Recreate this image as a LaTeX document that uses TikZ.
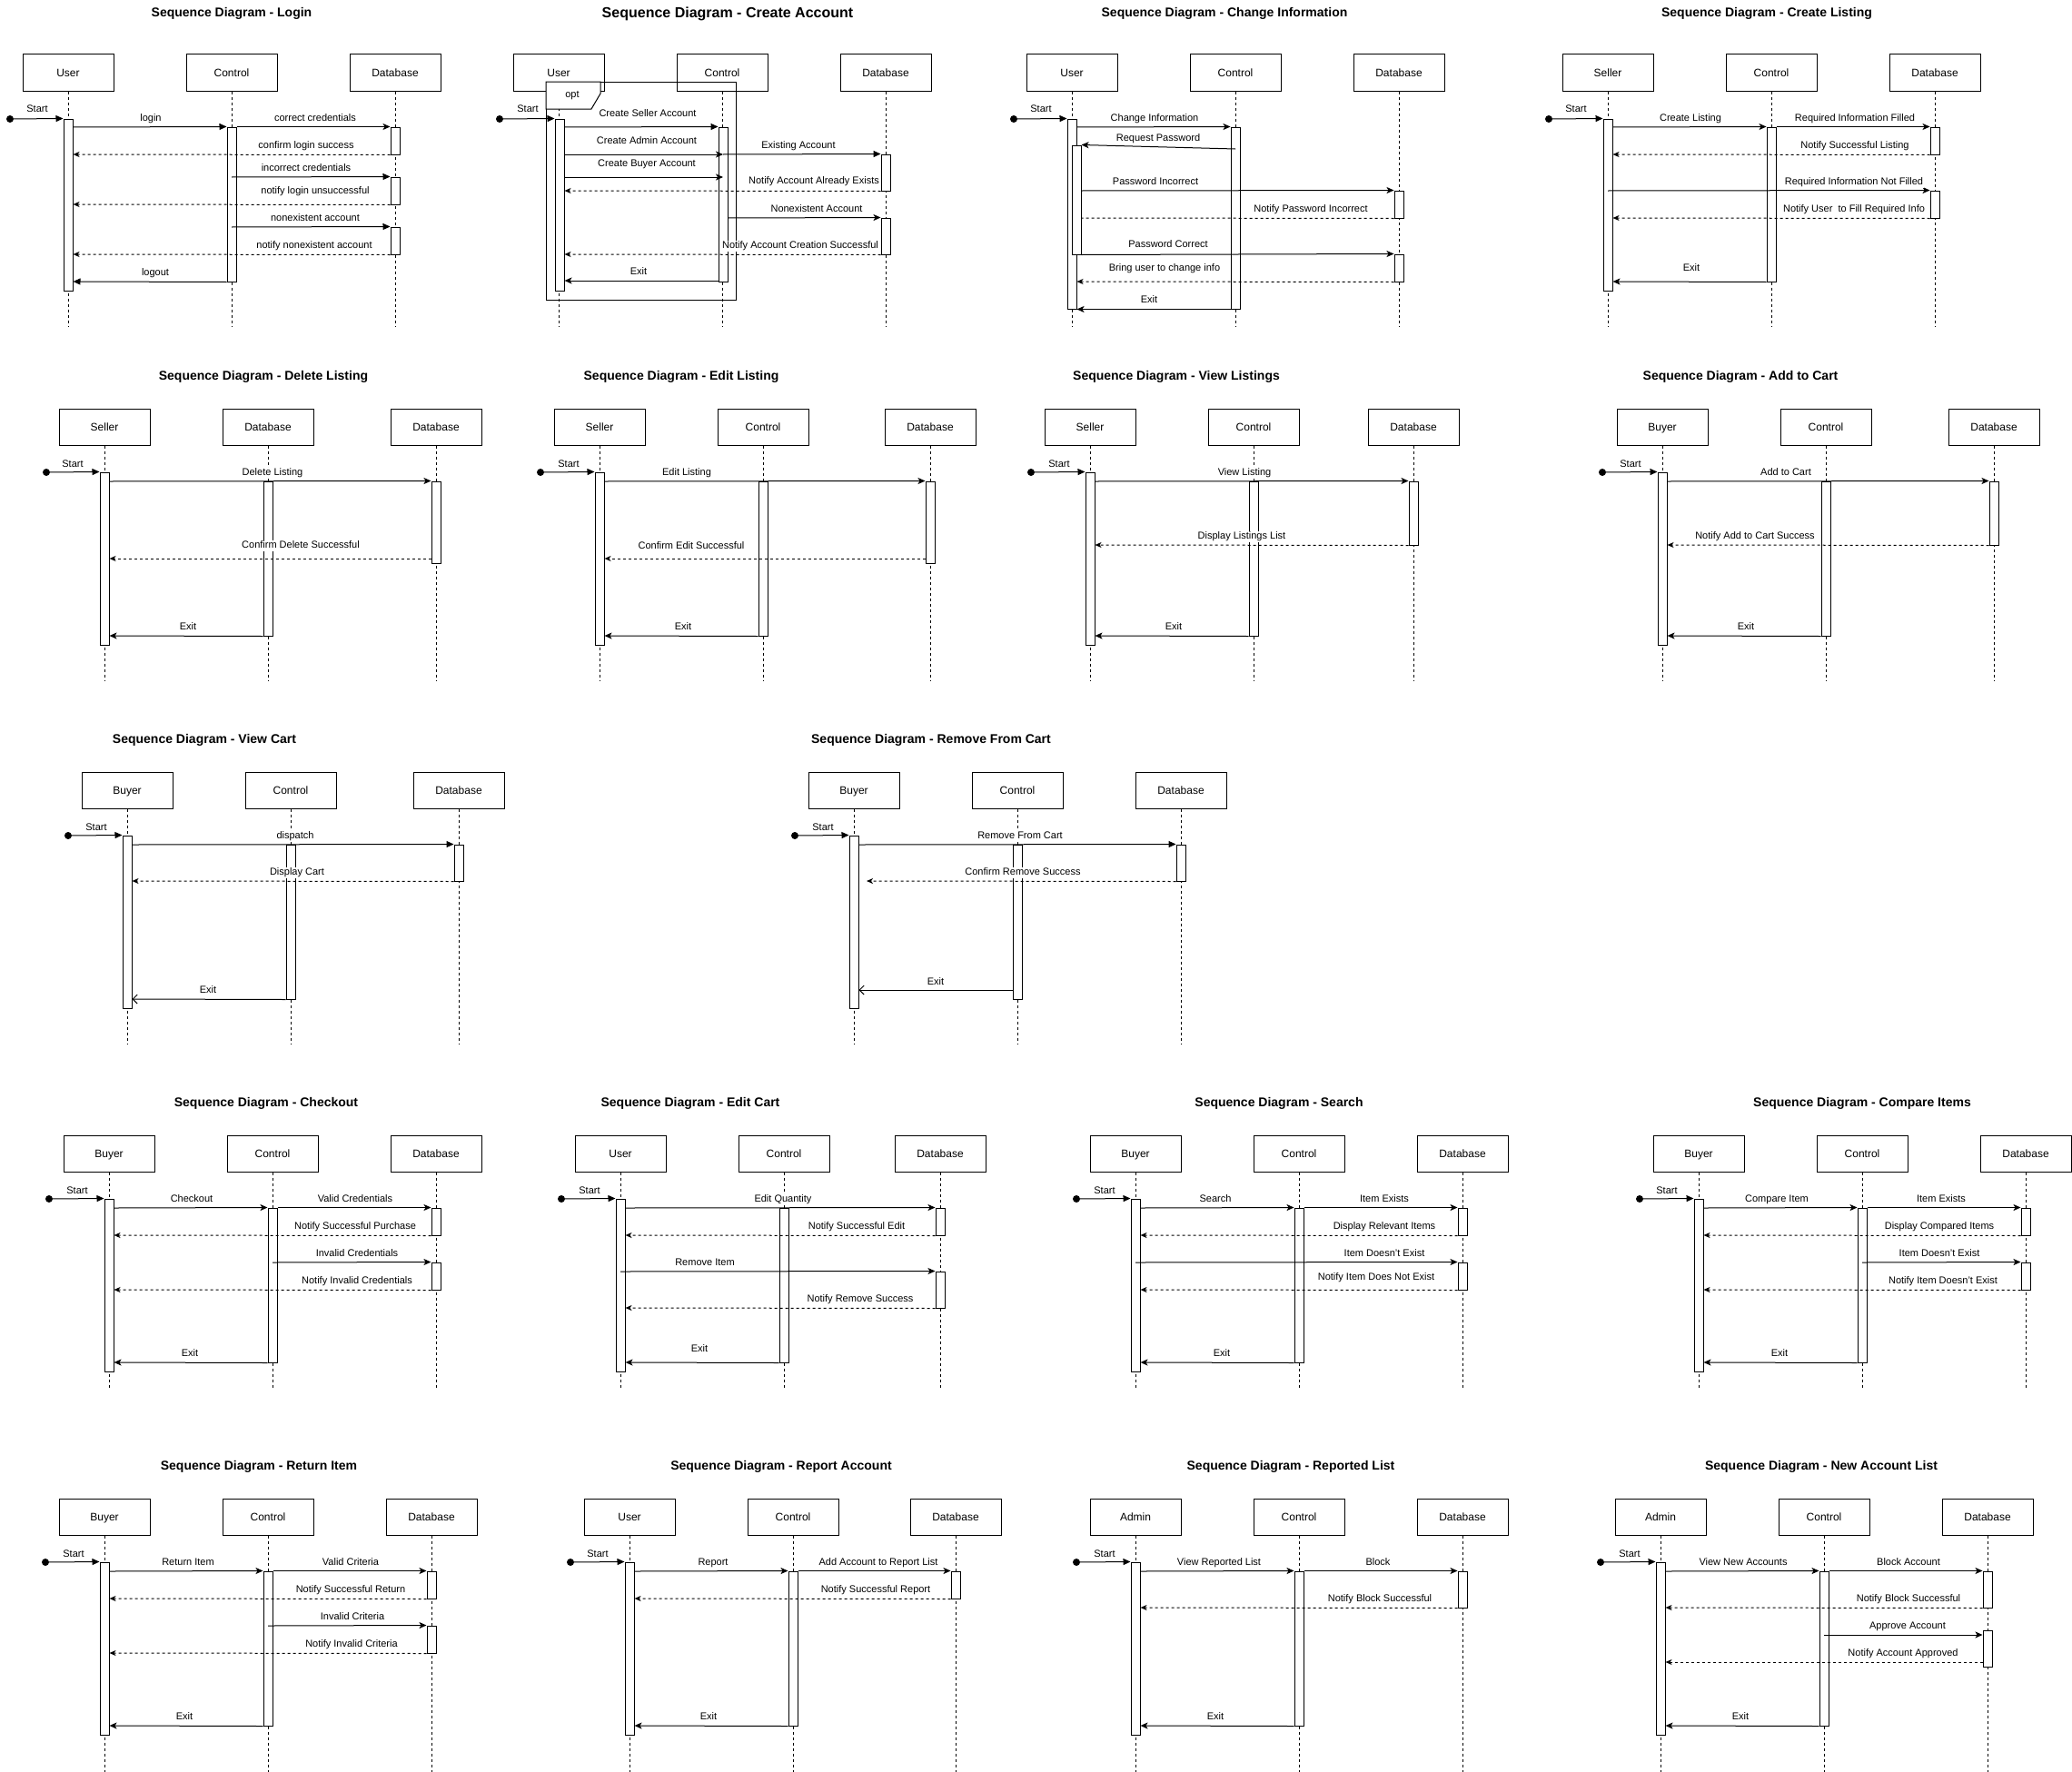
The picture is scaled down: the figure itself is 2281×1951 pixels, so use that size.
\documentclass[tikz,border=0pt]{standalone}
\usepackage{fontspec}
\setmainfont{Liberation Sans}
\usetikzlibrary{arrows.meta}
% participant box: name, x, y (centre), text
\newcommand{\ppt}[4]{\node[pbox] (#1) at (#2,#3) {#4};}
% dashed lifeline below a participant, down to the given y
\newcommand{\lifeln}[2]{\draw[life] (#1.south) -- (#1.south |- 0,#2);}
% activation bar: name, x centre, top y, bottom y
\newcommand{\actv}[4]{\node[act, minimum height={(#4)-(#3)}] (#1) at (#2,{((#3)+(#4))/2}) {};}
% message: [style] from, to, label position, label
\newcommand{\sqmsg}[5][sync]{\draw[#1] #2 -- #3 node[lbl] at (#4) {#5};}
% initial dot and its arrow into the first activation
\newcommand{\startmsg}[4]{\node[dot] (#1) at (#2) {}; \draw[startarr] (#1) -- (#3.north west) node[lbl] at (#4) {Start};}
\begin{document}
\begin{tikzpicture}[x=1pt,y=-1pt,
  pbox/.style={draw, line width=1pt, fill=white, minimum width=100pt, minimum height=40pt, inner sep=0pt, text height=8.6pt, text depth=0pt, font=\fontsize{12}{14}\selectfont},
  act/.style={draw, line width=1pt, fill=white, minimum width=10pt, inner sep=0pt},
  life/.style={line width=1pt, dash pattern=on 3pt off 3pt},
  sync/.style={line width=1pt, -{Stealth[length=8pt,width=7pt,inset=2pt]}},
  blk/.style={line width=1pt, -{Triangle[length=8pt,width=7pt]}},
  ret/.style={line width=1pt, dash pattern=on 3pt off 3pt, -{Stealth[length=7pt,width=6pt,inset=2pt]}},
  retn/.style={line width=1pt, dash pattern=on 3pt off 3pt},
  opn/.style={line width=1pt, -{Straight Barb[length=5pt,width=10pt]}},
  startarr/.style={line width=1pt, -{Triangle[length=8pt,width=7pt]}},
  dot/.style={circle, fill=black, minimum size=8pt, inner sep=0pt},
  lbl/.style={fill=white, inner sep=1pt, text height=8pt, text depth=2.3pt, font=\fontsize{11}{13}\selectfont},
  ttl/.style={font=\bfseries\fontsize{14}{17}\selectfont},
]
\fill[white] (0,0) rectangle (2281,1951);
\useasboundingbox (0,0) rectangle (2281,1951);

% ===================== Login =====================
\node[ttl] (t1) at (255,15) {Sequence Diagram - Login};
\ppt{d1u}{75}{80}{User}\ppt{d1c}{255}{80}{Control}\ppt{d1d}{435}{80}{Database}
\lifeln{d1u}{360}\lifeln{d1c}{360}\lifeln{d1d}{360}
\actv{d1ua}{75}{131}{320}\actv{d1ca}{255}{140}{310}
\actv{d1da1}{435}{140}{170}\actv{d1da2}{435}{195}{225}\actv{d1da3}{435}{250}{280}
\startmsg{d1s}{11,131}{d1ua}{41,121}
\sqmsg[blk]{(d1ua.east|-0,140)}{(d1ca.north west)}{166,131}{login}
\sqmsg{(d1ca.north east)}{(d1da1.north west)}{347,131}{correct credentials}
\sqmsg[ret]{(d1da1.south west)}{(d1ua.east|-0,170)}{337,161}{confirm login success}
\sqmsg[blk]{(d1ca.center|-0,195)}{(d1da2.north west)}{337,186}{incorrect credentials}
\sqmsg[ret]{(d1da2.south west)}{(d1ua.east|-0,225)}{347,211}{notify login unsuccessful}
\sqmsg[blk]{(d1ca.center|-0,250)}{(d1da3.north west)}{347,241}{nonexistent account}
\sqmsg[ret]{(d1da3.south west)}{(d1ua.east|-0,280)}{346,271}{notify nonexistent account}
\sqmsg[blk]{(d1ca.south west)}{(d1ua.east|-0,310)}{171,301}{logout}

% ===================== Create Account =====================
\node[ttl, font=\bfseries\fontsize{16}{19}\selectfont] (t2) at (801,15) {Sequence Diagram - Create Account};
\ppt{d2u}{615}{80}{User}\ppt{d2c}{795}{80}{Control}\ppt{d2d}{975}{80}{Database}
\lifeln{d2u}{360}\lifeln{d2c}{360}\lifeln{d2d}{360}
% opt combined fragment
\draw[line width=1pt] (601,90) rectangle (810,330);
\filldraw[line width=1pt, fill=white] (601,90) -- (661,90) -- (661,103) -- (651,120) -- (601,120) -- cycle;
\node[lbl, fill=none] (d2opt) at (630,105) {opt};
\actv{d2ua}{616}{131}{320}\actv{d2ca}{796}{140}{310}
\actv{d2da1}{975}{170}{210}\actv{d2da2}{975}{240}{280}
\startmsg{d2s}{550,131}{d2ua}{581,121}
\sqmsg[blk]{(d2ua.east|-0,140)}{(d2ca.north west)}{713,126}{Create Seller Account}
\sqmsg{(d2ua.east|-0,170)}{(d2ca.center|-0,170)}{712,156}{Create Admin Account}
\sqmsg[blk]{(d2ca.center|-0,170)}{(d2da1.north west)}{879,161}{Existing Account}
\sqmsg{(d2ua.east|-0,195)}{(d2ca.center|-0,195)}{712,181}{Create Buyer Account}
\sqmsg[ret]{(d2da1.south west)}{(d2ua.east|-0,210)}{896,200}{Notify Account Already Exists}
\sqmsg{(d2ca.east|-0,240)}{(d2da2.north west)}{899,231}{Nonexistent Account}
\sqmsg[ret]{(d2da2.south west)}{(d2ua.east|-0,280)}{881,271}{Notify Account Creation Successful}
\sqmsg{(d2ca.west|-0,309)}{(d2ua.east|-0,309)}{703,300}{Exit}

% ===================== Change Information =====================
\node[ttl] (t3) at (1348,15) {Sequence Diagram - Change Information};
\ppt{d3u}{1180}{80}{User}\ppt{d3c}{1360}{80}{Control}\ppt{d3d}{1540}{80}{Database}
\lifeln{d3u}{360}\lifeln{d3c}{360}\lifeln{d3d}{360}
\actv{d3ua}{1180}{131}{340}\actv{d3ca}{1360}{140}{340}\actv{d3ui}{1185}{160}{280}
\actv{d3da1}{1540}{210}{240}\actv{d3da2}{1540}{280}{310}
\startmsg{d3s}{1116,131}{d3ua}{1146,121}
\sqmsg{(d3ua.east|-0,140)}{(d3ca.north west)}{1271,131}{Change Information}
\sqmsg{(d3ca.center|-0,164)}{(d3ui.north east)}{1275,153}{Request Password}
\sqmsg{(d3ui.east|-0,210)}{(d3da1.north west)}{1272,201}{Password Incorrect}
\sqmsg[retn]{(d3da1.south west)}{(d3ui.east|-0,240)}{1443,231}{Notify Password Incorrect}
\sqmsg{(d3ui.south east)}{(d3da2.north west)}{1286,270}{Password Correct}
\sqmsg[ret]{(d3da2.south west)}{(d3ua.east|-0,310)}{1282,296}{Bring user to change info}
\sqmsg{(d3ca.south west)}{(d3ua.south east)}{1265,331}{Exit}

% ===================== Create Listing =====================
\node[ttl] (t4) at (1945,15) {Sequence Diagram - Create Listing};
\ppt{d4s}{1770}{80}{Seller}\ppt{d4c}{1950}{80}{Control}\ppt{d4d}{2130}{80}{Database}
\lifeln{d4s}{360}\lifeln{d4c}{360}\lifeln{d4d}{360}
\actv{d4sa}{1770}{131}{320}\actv{d4ca}{1950}{140}{310}
\actv{d4da1}{2130}{140}{170}\actv{d4da2}{2130}{210}{240}
\startmsg{d4st}{1705,131}{d4sa}{1735,121}
\sqmsg{(d4sa.east|-0,140)}{(d4ca.north west)}{1861,131}{Create Listing}
\sqmsg{(d4ca.north east)}{(d4da1.north west)}{2042,131}{Required Information Filled}
\sqmsg[ret]{(d4da1.south west)}{(d4sa.east|-0,170)}{2042,161}{Notify Successful Listing}
\sqmsg{(d4sa.center|-0,210)}{(d4da2.north west)}{2041,201}{Required Information Not Filled}
\sqmsg[ret]{(d4da2.south west)}{(d4sa.east|-0,240)}{2041,231}{Notify User\ \ to Fill Required Info}
\sqmsg{(d4ca.south west)}{(d4sa.east|-0,310)}{1862,296}{Exit}

% ===================== Delete Listing =====================
\node[ttl] (t5) at (290,415) {Sequence Diagram - Delete Listing};
\ppt{d5s}{115}{470}{Seller}\ppt{d5m}{295}{470}{Database}\ppt{d5d}{480}{470}{Database}
\lifeln{d5s}{750}\lifeln{d5m}{750}\lifeln{d5d}{750}
\actv{d5sa}{115}{520}{710}\actv{d5ma}{295}{530}{700}\actv{d5da}{480}{530}{620}
\startmsg{d5st}{51,520}{d5sa}{80,512}
\sqmsg{(d5sa.east|-0,530)}{(d5da.north west)}{300,521}{Delete Listing}
\sqmsg[ret]{(d5da.west|-0,615)}{(d5sa.east|-0,615)}{331,601}{Confirm Delete Successful}
\sqmsg{(d5ma.south west)}{(d5sa.east|-0,700)}{207,691}{Exit}

% ===================== Edit Listing =====================
\node[ttl] (t6) at (750,415) {Sequence Diagram - Edit Listing};
\ppt{d6s}{660}{470}{Seller}\ppt{d6c}{840}{470}{Control}\ppt{d6d}{1024}{470}{Database}
\lifeln{d6s}{750}\lifeln{d6c}{750}\lifeln{d6d}{750}
\actv{d6sa}{660}{520}{710}\actv{d6ca}{840}{530}{700}\actv{d6da}{1024}{530}{620}
\startmsg{d6st}{595,520}{d6sa}{626,512}
\sqmsg{(d6sa.east|-0,530)}{(d6da.north west)}{756,521}{Edit Listing}
\sqmsg[ret]{(d6da.west|-0,615)}{(d6sa.east|-0,615)}{761,602}{Confirm Edit Successful}
\sqmsg{(d6ca.south west)}{(d6sa.east|-0,700)}{752,691}{Exit}

% ===================== View Listings =====================
\node[ttl] (t7) at (1295,415) {Sequence Diagram - View Listings};
\ppt{d7s}{1200}{470}{Seller}\ppt{d7c}{1380}{470}{Control}\ppt{d7d}{1556}{470}{Database}
\lifeln{d7s}{750}\lifeln{d7c}{750}\lifeln{d7d}{750}
\actv{d7sa}{1200}{520}{710}\actv{d7ca}{1380}{530}{700}\actv{d7da}{1556}{530}{600}
\startmsg{d7st}{1135,520}{d7sa}{1166,512}
\sqmsg{(d7sa.east|-0,530)}{(d7da.north west)}{1370,521}{View Listing}
\sqmsg[ret]{(d7da.south west)}{(d7sa.east|-0,600)}{1367,591}{Display Listings List}
\sqmsg{(d7ca.south west)}{(d7sa.east|-0,700)}{1292,691}{Exit}

% ===================== Add to Cart =====================
\node[ttl] (t8) at (1916,415) {Sequence Diagram - Add to Cart};
\ppt{d8b}{1830}{470}{Buyer}\ppt{d8c}{2010}{470}{Control}\ppt{d8d}{2195}{470}{Database}
\lifeln{d8b}{750}\lifeln{d8c}{750}\lifeln{d8d}{750}
\actv{d8ba}{1830}{520}{710}\actv{d8ca}{2010}{530}{700}\actv{d8da}{2195}{530}{600}
\startmsg{d8st}{1764,520}{d8ba}{1795,512}
\sqmsg{(d8ba.east|-0,530)}{(d8da.north west)}{1966,521}{Add to Cart}
\sqmsg[ret]{(d8da.south west)}{(d8ba.east|-0,600)}{1932,591}{Notify Add to Cart Success}
\sqmsg{(d8ca.south west)}{(d8ba.east|-0,700)}{1922,691}{Exit}

% ===================== View Cart =====================
\node[ttl] (t9) at (225,815) {Sequence Diagram - View Cart};
\ppt{d9b}{140}{870}{Buyer}\ppt{d9c}{320}{870}{Control}\ppt{d9d}{505}{870}{Database}
\lifeln{d9b}{1150}\lifeln{d9c}{1150}\lifeln{d9d}{1150}
\actv{d9ba}{140}{920}{1110}\actv{d9ca}{320}{930}{1100}\actv{d9da}{505}{930}{970}
\startmsg{d9st}{75,920}{d9ba}{106,912}
\sqmsg[blk]{(d9ba.east|-0,930)}{(d9da.north west)}{325,921}{dispatch}
\sqmsg[ret]{(d9da.south west)}{(d9ba.east|-0,970)}{327,961}{Display Cart}
\sqmsg[opn]{(d9ca.south west)}{(d9ba.east|-0,1100)}{229,1091}{Exit}

% ===================== Remove From Cart =====================
\node[ttl] (t10) at (1025,815) {Sequence Diagram - Remove From Cart};
\ppt{d10b}{940}{870}{Buyer}\ppt{d10c}{1120}{870}{Control}\ppt{d10d}{1300}{870}{Database}
\lifeln{d10b}{1150}\lifeln{d10c}{1150}\lifeln{d10d}{1150}
\actv{d10ba}{940}{920}{1110}\actv{d10ca}{1120}{930}{1100}\actv{d10da}{1300}{930}{970}
\coordinate (d10r) at (954,970);
\startmsg{d10st}{875,920}{d10ba}{906,912}
\sqmsg[blk]{(d10ba.east|-0,930)}{(d10da.north west)}{1123,921}{Remove From Cart}
\sqmsg[ret]{(d10da.south west)}{(d10r)}{1126,961}{Confirm Remove Success}
\sqmsg[opn]{(d10ca.west|-0,1090)}{(d10ba.east|-0,1090)}{1030,1082}{Exit}

% ===================== Checkout =====================
\node[ttl] (t11) at (293,1215) {Sequence Diagram - Checkout};
\ppt{d11b}{120}{1270}{Buyer}\ppt{d11c}{300}{1270}{Control}\ppt{d11d}{480}{1270}{Database}
\lifeln{d11b}{1530}\lifeln{d11c}{1530}\lifeln{d11d}{1530}
\actv{d11ba}{120}{1320}{1510}\actv{d11ca}{300}{1330}{1500}
\actv{d11da1}{480}{1330}{1360}\actv{d11da2}{480}{1390}{1420}
\startmsg{d11st}{54,1320}{d11ba}{85,1312}
\sqmsg{(d11ba.east|-0,1330)}{(d11ca.north west)}{211,1321}{Checkout}
\sqmsg{(d11ca.north east)}{(d11da1.north west)}{391,1321}{Valid Credentials}
\sqmsg[ret]{(d11da1.south west)}{(d11ba.east|-0,1360)}{391,1351}{Notify Successful Purchase}
\sqmsg{(d11ca.center|-0,1390)}{(d11da2.north west)}{393,1381}{Invalid Credentials}
\sqmsg[ret]{(d11da2.south west)}{(d11ba.east|-0,1420)}{393,1411}{Notify Invalid Credentials}
\sqmsg{(d11ca.south west)}{(d11ba.east|-0,1500)}{209,1491}{Exit}

% ===================== Edit Cart =====================
\node[ttl] (t12) at (760,1215) {Sequence Diagram - Edit Cart};
\ppt{d12u}{683}{1270}{User}\ppt{d12c}{863}{1270}{Control}\ppt{d12d}{1035}{1270}{Database}
\lifeln{d12u}{1530}\lifeln{d12c}{1530}\lifeln{d12d}{1530}
\actv{d12ua}{683}{1320}{1510}\actv{d12ca}{863}{1330}{1500}
\actv{d12da1}{1035}{1330}{1360}\actv{d12da2}{1035}{1400}{1440}
\startmsg{d12st}{618,1320}{d12ua}{649,1312}
\sqmsg{(d12ua.east|-0,1330)}{(d12da1.north west)}{862,1321}{Edit Quantity}
\sqmsg[ret]{(d12da1.south west)}{(d12ua.east|-0,1360)}{943,1351}{Notify Successful Edit}
\sqmsg{(d12ua.center|-0,1400)}{(d12da2.north west)}{776,1391}{Remove Item}
\sqmsg[ret]{(d12da2.south west)}{(d12ua.east|-0,1440)}{947,1431}{Notify Remove Success}
\sqmsg{(d12ca.south west)}{(d12ua.east|-0,1500)}{770,1486}{Exit}

% ===================== Search =====================
\node[ttl] (t13) at (1408,1215) {Sequence Diagram - Search};
\ppt{d13b}{1250}{1270}{Buyer}\ppt{d13c}{1430}{1270}{Control}\ppt{d13d}{1610}{1270}{Database}
\lifeln{d13b}{1530}\lifeln{d13c}{1530}\lifeln{d13d}{1530}
\actv{d13ba}{1250}{1320}{1510}\actv{d13ca}{1430}{1330}{1500}
\actv{d13da1}{1610}{1330}{1360}\actv{d13da2}{1610}{1390}{1420}
\startmsg{d13st}{1185,1320}{d13ba}{1216,1312}
\sqmsg{(d13ba.east|-0,1330)}{(d13ca.north west)}{1338,1321}{Search}
\sqmsg{(d13ca.north east)}{(d13da1.north west)}{1524,1321}{Item Exists}
\sqmsg[ret]{(d13da1.south west)}{(d13ba.east|-0,1360)}{1524,1351}{Display Relevant Items}
\sqmsg{(d13ba.center|-0,1390)}{(d13da2.north west)}{1524,1381}{Item Doesn't Exist}
\sqmsg[ret]{(d13da2.south west)}{(d13ba.east|-0,1420)}{1515,1407}{Notify Item Does Not Exist}
\sqmsg{(d13ca.south west)}{(d13ba.east|-0,1500)}{1345,1491}{Exit}

% ===================== Compare Items =====================
\node[ttl] (t14) at (2050,1215) {Sequence Diagram - Compare Items};
\ppt{d14b}{1870}{1270}{Buyer}\ppt{d14c}{2050}{1270}{Control}\ppt{d14d}{2230}{1270}{Database}
\lifeln{d14b}{1530}\lifeln{d14c}{1530}\lifeln{d14d}{1530}
\actv{d14ba}{1870}{1320}{1510}\actv{d14ca}{2050}{1330}{1500}
\actv{d14da1}{2230}{1330}{1360}\actv{d14da2}{2230}{1390}{1420}
\startmsg{d14st}{1805,1320}{d14ba}{1835,1312}
\sqmsg{(d14ba.east|-0,1330)}{(d14ca.north west)}{1956,1321}{Compare Item}
\sqmsg{(d14ca.north east)}{(d14da1.north west)}{2137,1321}{Item Exists}
\sqmsg[ret]{(d14da1.south west)}{(d14ba.east|-0,1360)}{2135,1351}{Display Compared Items}
\sqmsg{(d14ca.center|-0,1390)}{(d14da2.north west)}{2135,1381}{Item Doesn't Exist}
\sqmsg[ret]{(d14da2.south west)}{(d14ba.east|-0,1420)}{2139,1411}{Notify Item Doesn't Exist}
\sqmsg{(d14ca.south west)}{(d14ba.east|-0,1500)}{1959,1491}{Exit}

% ===================== Return Item =====================
\node[ttl] (t15) at (285,1615) {Sequence Diagram - Return Item};
\ppt{d15b}{115}{1670}{Buyer}\ppt{d15c}{295}{1670}{Control}\ppt{d15d}{475}{1670}{Database}
\lifeln{d15b}{1951}\lifeln{d15c}{1951}\lifeln{d15d}{1951}
\actv{d15ba}{115}{1720}{1910}\actv{d15ca}{295}{1730}{1900}
\actv{d15da1}{475}{1730}{1760}\actv{d15da2}{475}{1790}{1820}
\startmsg{d15st}{50,1720}{d15ba}{81,1712}
\sqmsg{(d15ba.east|-0,1730)}{(d15ca.north west)}{207,1721}{Return Item}
\sqmsg{(d15ca.north east)}{(d15da1.north west)}{386,1721}{Valid Criteria}
\sqmsg[ret]{(d15da1.south west)}{(d15ba.east|-0,1760)}{386,1751}{Notify Successful Return}
\sqmsg{(d15ca.center|-0,1790)}{(d15da2.north west)}{388,1781}{Invalid Criteria}
\sqmsg[ret]{(d15da2.south west)}{(d15ba.east|-0,1820)}{387,1811}{Notify Invalid Criteria}
\sqmsg{(d15ca.south west)}{(d15ba.east|-0,1900)}{203,1891}{Exit}

% ===================== Report Account =====================
\node[ttl] (t16) at (860,1615) {Sequence Diagram - Report Account};
\ppt{d16u}{693}{1670}{User}\ppt{d16c}{873}{1670}{Control}\ppt{d16d}{1052}{1670}{Database}
\lifeln{d16u}{1951}\lifeln{d16c}{1951}\lifeln{d16d}{1951}
\actv{d16ua}{693}{1720}{1910}\actv{d16ca}{873}{1730}{1900}\actv{d16da}{1052}{1730}{1760}
\startmsg{d16st}{628,1720}{d16ua}{658,1712}
\sqmsg{(d16ua.east|-0,1730)}{(d16ca.north west)}{785,1721}{Report}
\sqmsg{(d16ca.north east)}{(d16da.north west)}{967,1721}{Add Account to Report List}
\sqmsg[ret]{(d16da.south west)}{(d16ua.east|-0,1760)}{964,1751}{Notify Successful Report}
\sqmsg{(d16ca.south west)}{(d16ua.east|-0,1900)}{780,1891}{Exit}

% ===================== Reported List =====================
\node[ttl] (t17) at (1421,1615) {Sequence Diagram - Reported List};
\ppt{d17a}{1250}{1670}{Admin}\ppt{d17c}{1430}{1670}{Control}\ppt{d17d}{1610}{1670}{Database}
\lifeln{d17a}{1951}\lifeln{d17c}{1951}\lifeln{d17d}{1951}
\actv{d17aa}{1250}{1720}{1910}\actv{d17ca}{1430}{1730}{1900}\actv{d17da}{1610}{1730}{1770}
\startmsg{d17st}{1185,1720}{d17aa}{1216,1712}
\sqmsg{(d17aa.east|-0,1730)}{(d17ca.north west)}{1342,1721}{View Reported List}
\sqmsg{(d17ca.north east)}{(d17da.north west)}{1517,1721}{Block}
\sqmsg[ret]{(d17da.south west)}{(d17aa.east|-0,1770)}{1519,1761}{Notify Block Successful}
\sqmsg{(d17ca.south west)}{(d17aa.east|-0,1900)}{1338,1891}{Exit}

% ===================== New Account List =====================
\node[ttl] (t18) at (2005,1615) {Sequence Diagram - New Account List};
\ppt{d18a}{1828}{1670}{Admin}\ppt{d18c}{2008}{1670}{Control}\ppt{d18d}{2188}{1670}{Database}
\lifeln{d18a}{1951}\lifeln{d18c}{1951}\lifeln{d18d}{1951}
\actv{d18aa}{1828}{1720}{1910}\actv{d18ca}{2008}{1730}{1900}
\actv{d18da1}{2188}{1730}{1770}\actv{d18da2}{2188}{1795}{1835}
\startmsg{d18st}{1762,1720}{d18aa}{1794,1712}
\sqmsg{(d18aa.east|-0,1730)}{(d18ca.north west)}{1919,1721}{View New Accounts}
\sqmsg{(d18ca.north east)}{(d18da1.north west)}{2101,1721}{Block Account}
\sqmsg[ret]{(d18da1.south west)}{(d18aa.east|-0,1770)}{2101,1761}{Notify Block Successful}
\sqmsg{(d18ca.center|-0,1800)}{(d18da2.west|-0,1800)}{2100,1791}{Approve Account}
\sqmsg[ret]{(d18da2.west|-0,1830)}{(d18aa.east|-0,1830)}{2095,1821}{Notify Account Approved}
\sqmsg{(d18ca.south west)}{(d18aa.east|-0,1900)}{1916,1891}{Exit}
\end{tikzpicture}
\end{document}
